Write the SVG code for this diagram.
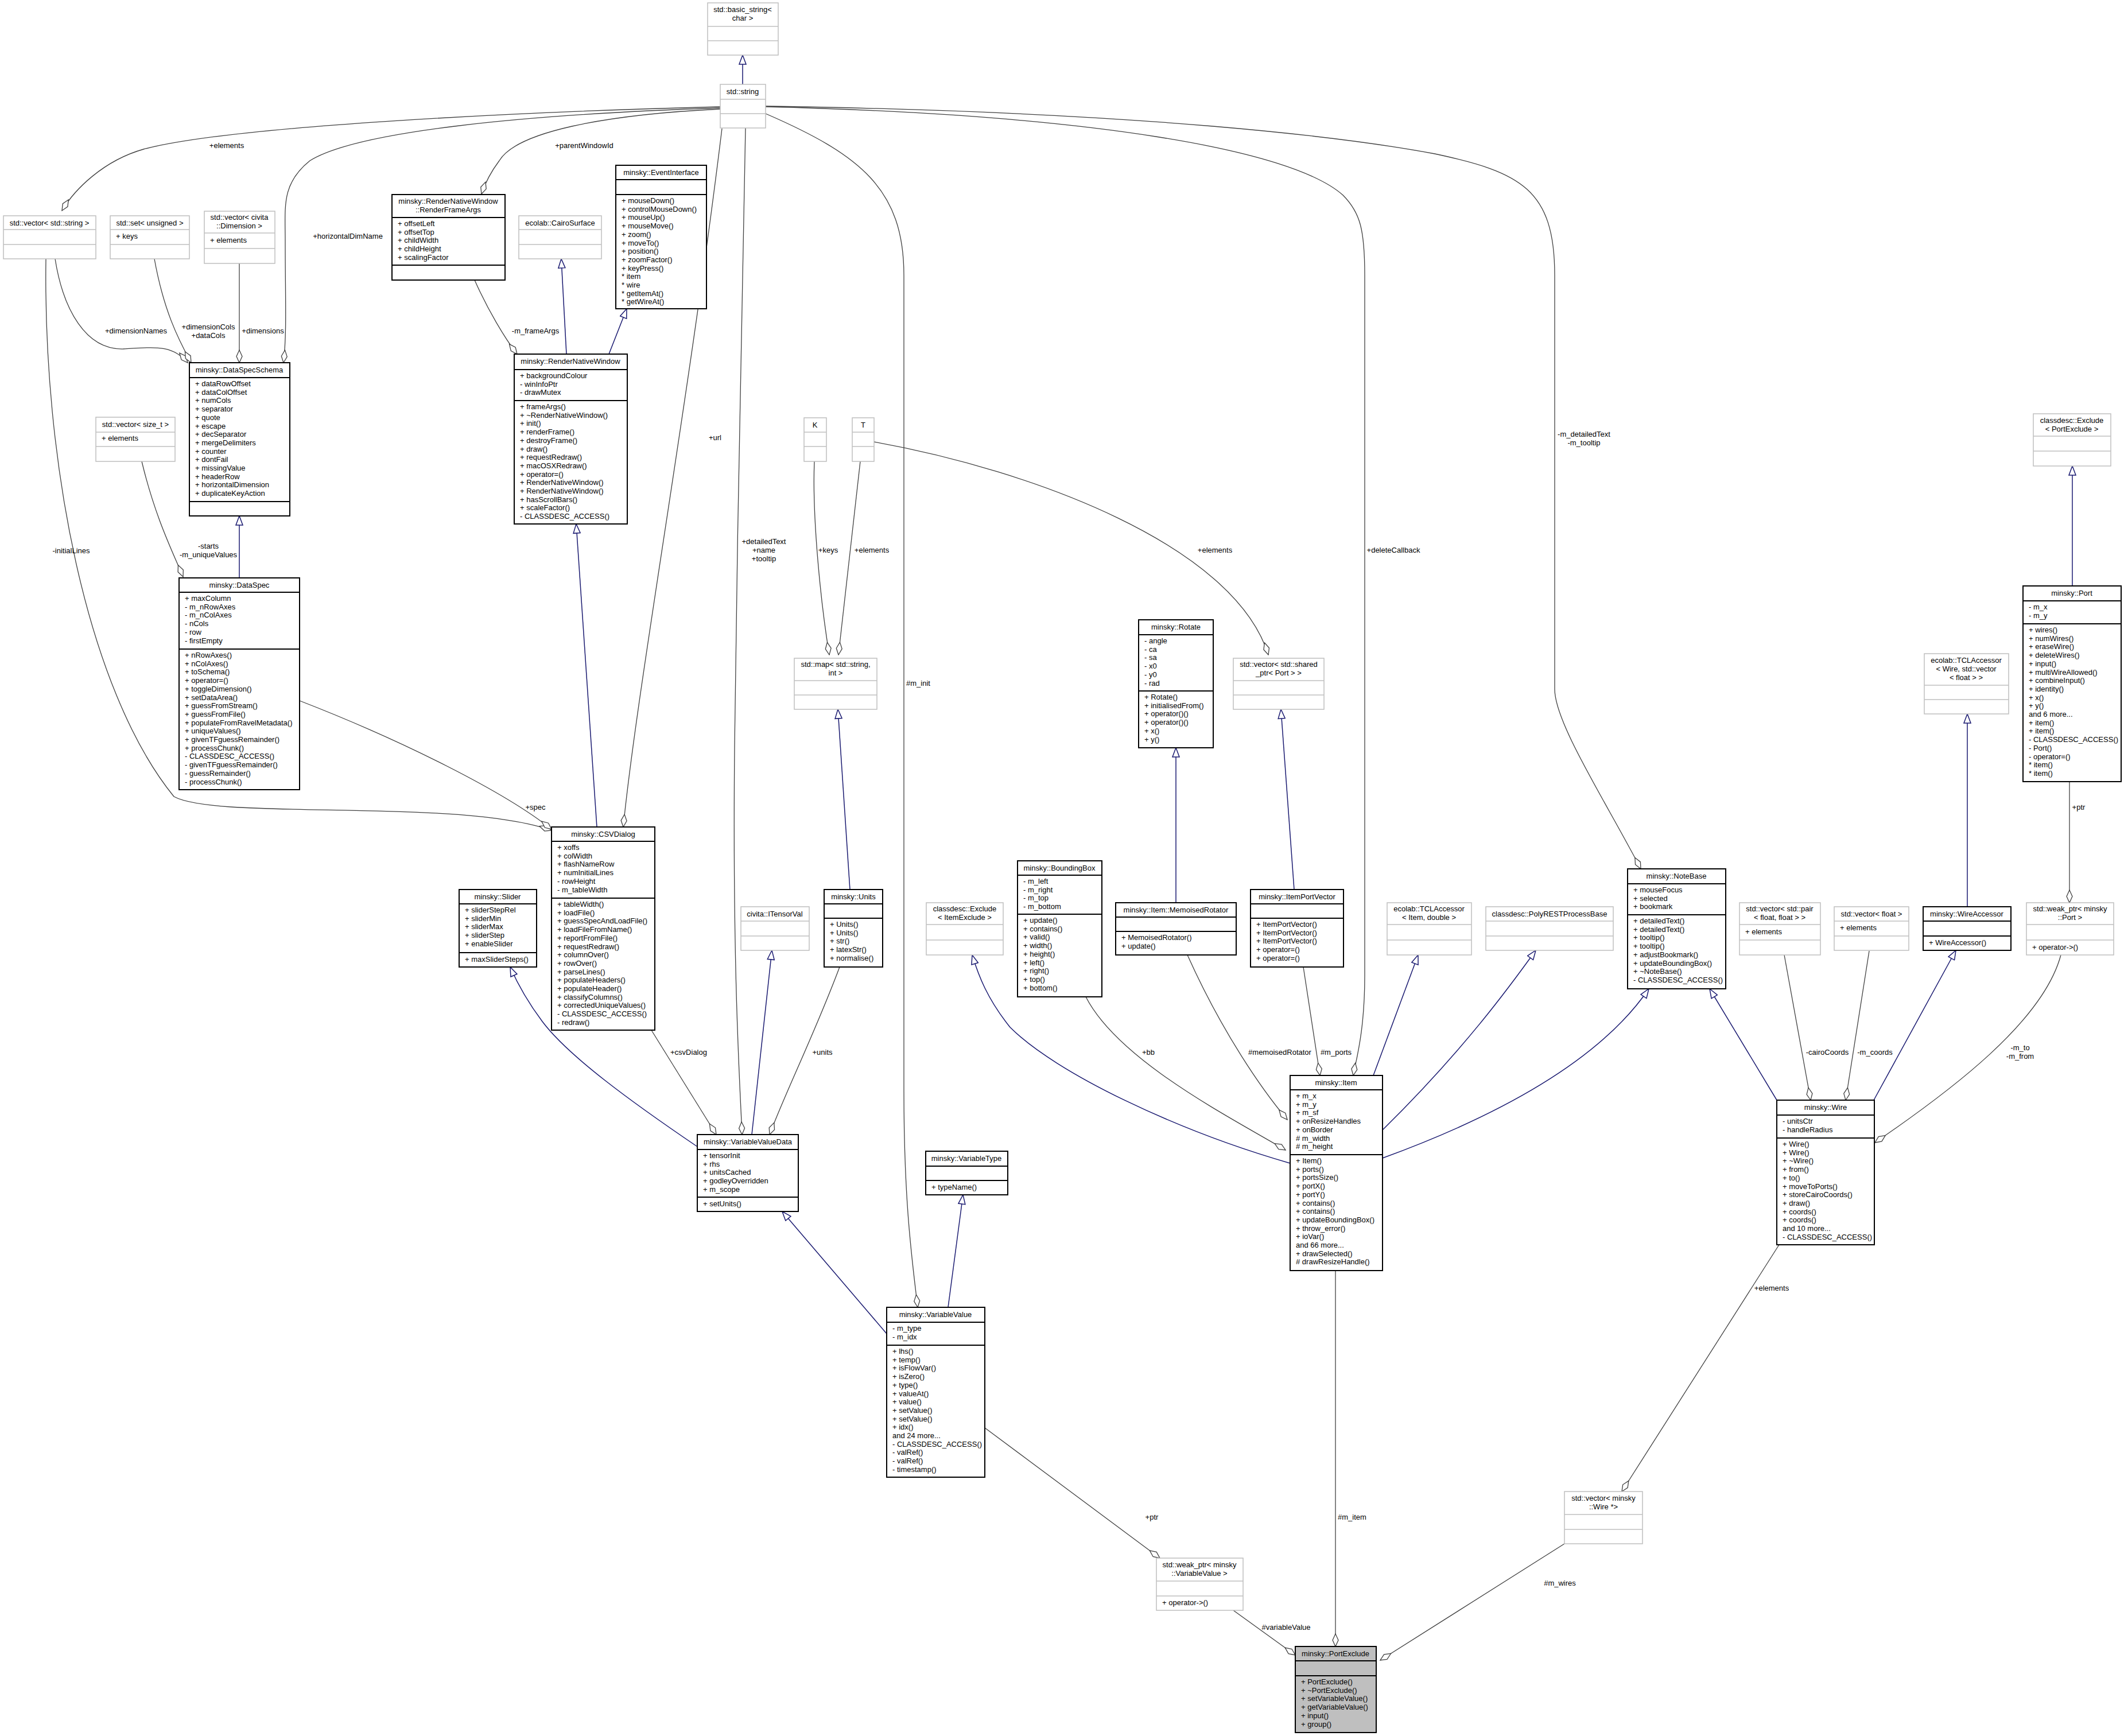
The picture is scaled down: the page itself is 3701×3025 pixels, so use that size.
<svg xmlns="http://www.w3.org/2000/svg" width="3701" height="3025" viewBox="0 0 3701 3025">
<style>
text{font-family:"Liberation Sans",Arial,sans-serif;font-size:13px;fill:#000}
.h{text-anchor:middle}
.l{text-anchor:middle}
.gb{fill:#fff;stroke:#bfbfbf;stroke-width:1.5}
.gl{stroke:#bfbfbf;stroke-width:1.5}
.bb{fill:#fff;stroke:#000;stroke-width:2}
.bl{stroke:#000;stroke-width:2}
.sel{fill:#bfbfbf;stroke:#000;stroke-width:2}
.inh{fill:none;stroke:#191970;stroke-width:1.5;marker-end:url(#tri)}
.agg{fill:none;stroke:#404040;stroke-width:1.3;marker-end:url(#dia)}
</style>
<defs>
<marker id="tri" markerUnits="userSpaceOnUse" markerWidth="20" markerHeight="14" viewBox="-1 -7 18 14" refX="16" refY="0" orient="auto"><path d="M0,-6 L16,0 L0,6 Z" fill="#fff" stroke="#191970" stroke-width="1.5"/></marker>
<marker id="dia" markerUnits="userSpaceOnUse" markerWidth="24" markerHeight="12" viewBox="-1 -6 24 12" refX="22" refY="0" orient="auto"><path d="M0,0 L11,-5 L22,0 L11,5 Z" fill="#fff" stroke="#404040" stroke-width="1.3"/></marker>
</defs>
<rect width="3701" height="3025" fill="#fff"/>
<g id="edges">
<path class="inh" d="M1294,147 L1294,96"/>
<path class="inh" d="M987,617 L978,451"/>
<path class="inh" d="M1061,617 L1092,538"/>
<path class="inh" d="M417,1007 L417,899"/>
<path class="inh" d="M1040,1441 L1004,913"/>
<path class="inh" d="M1215,1998 C1100,1920 990,1840 945,1780 C915,1740 900,1710 889,1685"/>
<path class="inh" d="M1310,1977 L1345,1656"/>
<path class="inh" d="M1545,2324 L1363,2111"/>
<path class="inh" d="M1652,2278 L1678,2082"/>
<path class="inh" d="M1481,1550 L1460,1236"/>
<path class="inh" d="M2049,1573 L2049,1303"/>
<path class="inh" d="M2255,1550 L2232,1236"/>
<path class="inh" d="M2248,2027 C2050,1970 1840,1870 1760,1790 C1720,1740 1705,1700 1694,1664"/>
<path class="inh" d="M2393,1874 L2471,1664"/>
<path class="inh" d="M2409,1969 C2550,1830 2630,1720 2676,1656"/>
<path class="inh" d="M2409,2018 C2650,1930 2800,1830 2873,1723"/>
<path class="inh" d="M3096,1917 L2979,1723"/>
<path class="inh" d="M3265,1917 L3408,1656"/>
<path class="inh" d="M3428,1580 L3428,1244"/>
<path class="inh" d="M3611,1021 L3611,812"/>

<path class="agg" d="M1255,186 C900,195 400,220 250,260 C180,280 130,330 108,367"/>
<text class="l" x="395" y="258">+elements</text>
<path class="agg" d="M1255,188 C900,200 620,230 540,280 C490,320 497,360 497,420 C497,520 500,580 494,632"/>
<text class="l" x="606" y="416">+horizontalDimName</text>
<path class="agg" d="M96,451 C110,540 150,610 215,608 C270,605 300,600 327,632"/>
<text class="l" x="237" y="581">+dimensionNames</text>
<path class="agg" d="M269,451 C285,540 310,590 333,632"/>
<text class="l" x="363" y="574">+dimensionCols</text>
<text class="l" x="363" y="589">+dataCols</text>
<path class="agg" d="M417,459 L417,632"/>
<text class="l" x="458" y="581">+dimensions</text>
<path class="agg" d="M1255,190 C1050,200 900,230 870,280 C855,300 845,320 839,338"/>
<text class="l" x="1018" y="258">+parentWindowId</text>
<path class="agg" d="M827,488 C850,540 880,590 901,617"/>
<text class="l" x="933" y="581">-m_frameArgs</text>
<path class="agg" d="M1258,224 C1200,700 1110,1200 1086,1441"/>
<text class="l" x="1246" y="767">+url</text>
<path class="agg" d="M247,804 C270,900 300,960 319,1005"/>
<text class="l" x="363" y="956">-starts</text>
<text class="l" x="363" y="971">-m_uniqueValues</text>
<path class="agg" d="M80,451 C75,800 150,1200 303,1388 C380,1430 800,1390 961,1447"/>
<text class="l" x="124" y="964">-initialLines</text>
<path class="agg" d="M522,1221 C700,1290 880,1380 961,1445"/>
<text class="l" x="933" y="1411">+spec</text>
<path class="agg" d="M1135,1795 L1248,1977"/>
<text class="l" x="1200" y="1838">+csvDialog</text>
<path class="agg" d="M1299,223 C1299,300 1284,900 1280,1300 C1276,1700 1290,1900 1293,1977"/>
<text class="l" x="1331" y="948">+detailedText</text>
<text class="l" x="1331" y="963">+name</text>
<text class="l" x="1331" y="978">+tooltip</text>
<path class="agg" d="M1463,1685 C1420,1800 1370,1900 1341,1977"/>
<text class="l" x="1433" y="1838">+units</text>
<path class="agg" d="M1419,804 C1415,900 1430,1050 1445,1141"/>
<text class="l" x="1443" y="963">+keys</text>
<path class="agg" d="M1499,804 L1461,1141"/>
<text class="l" x="1519" y="963">+elements</text>
<path class="agg" d="M1523,770 C1800,820 2150,950 2210,1141"/>
<text class="l" x="2117" y="963">+elements</text>
<path class="agg" d="M1334,198 C1500,270 1575,330 1575,480 L1575,1900 C1575,2100 1590,2200 1599,2278"/>
<text x="1579" y="1195">#m_init</text>
<path class="agg" d="M1334,186 C1900,200 2250,260 2340,340 C2370,370 2378,400 2378,480 L2378,1700 C2378,1800 2362,1850 2358,1874"/>
<text class="l" x="2428" y="963">+deleteCallback</text>
<path class="agg" d="M1334,185 C2000,195 2350,240 2500,268 C2650,300 2709,330 2709,480 L2709,1201 C2709,1260 2800,1400 2859,1514"/>
<text class="l" x="2760" y="761">-m_detailedText</text>
<text class="l" x="2760" y="776">-m_tooltip</text>
<path class="agg" d="M1892,1737 C1950,1850 2150,1950 2240,2004"/>
<text class="l" x="2001" y="1838">+bb</text>
<path class="agg" d="M2069,1664 C2130,1800 2200,1900 2243,1951"/>
<text class="l" x="2230" y="1838">#memoisedRotator</text>
<path class="agg" d="M2271,1685 L2300,1874"/>
<text class="l" x="2328" y="1838">#m_ports</text>
<path class="agg" d="M3109,1664 L3155,1917"/>
<text class="l" x="3184" y="1838">-cairoCoords</text>
<path class="agg" d="M3257,1657 L3216,1917"/>
<text class="l" x="3267" y="1838">-m_coords</text>
<path class="agg" d="M3591,1664 C3560,1780 3400,1900 3267,1991"/>
<text class="l" x="3520" y="1830">-m_to</text>
<text class="l" x="3520" y="1845">-m_from</text>
<path class="agg" d="M3606,1362 L3606,1573"/>
<text class="l" x="3622" y="1411">+ptr</text>
<path class="agg" d="M3100,2169 L2826,2599"/>
<text class="l" x="3087" y="2249">+elements</text>
<path class="agg" d="M2726,2690 L2405,2893"/>
<text class="l" x="2718" y="2763">#m_wires</text>
<path class="agg" d="M2327,2214 L2327,2869"/>
<text class="l" x="2356" y="2648">#m_item</text>
<path class="agg" d="M2149,2806 L2257,2884"/>
<text class="l" x="2241" y="2840">#variableValue</text>
<path class="agg" d="M1716,2488 L2021,2715"/>
<text class="l" x="2007" y="2648">+ptr</text>
</g>

<g id="basic_string"><rect class="gb" x="1233" y="5" width="123" height="91"/><line class="gl" x1="1233" y1="46" x2="1356" y2="46"/><line class="gl" x1="1233" y1="71" x2="1356" y2="71"/><text class="h" x="1294" y="21">std::basic_string&lt;</text><text class="h" x="1294" y="36">char &gt;</text></g>
<g id="std_string"><rect class="gb" x="1255" y="147" width="79" height="76"/><line class="gl" x1="1255" y1="173" x2="1334" y2="173"/><line class="gl" x1="1255" y1="198" x2="1334" y2="198"/><text class="h" x="1294" y="164">std::string</text></g>
<g id="vector_string"><rect class="gb" x="6" y="376" width="161" height="75"/><line class="gl" x1="6" y1="400" x2="167" y2="400"/><line class="gl" x1="6" y1="426" x2="167" y2="426"/><text class="h" x="86" y="393">std::vector&lt; std::string &gt;</text></g>
<g id="set_unsigned"><rect class="gb" x="192" y="376" width="138" height="75"/><line class="gl" x1="192" y1="400" x2="330" y2="400"/><line class="gl" x1="192" y1="426" x2="330" y2="426"/><text class="h" x="261" y="393">std::set&lt; unsigned &gt;</text><text x="202" y="416">+ keys</text></g>
<g id="vector_dimension"><rect class="gb" x="356" y="368" width="123" height="91"/><line class="gl" x1="356" y1="406" x2="479" y2="406"/><line class="gl" x1="356" y1="433" x2="479" y2="433"/><text class="h" x="417" y="383">std::vector&lt; civita</text><text class="h" x="417" y="398">::Dimension &gt;</text><text x="366" y="423">+ elements</text></g>
<g id="RenderFrameArgs"><rect class="bb" x="683" y="339" width="197" height="149"/><line class="bl" x1="683" y1="379" x2="880" y2="379"/><line class="bl" x1="683" y1="462" x2="880" y2="462"/><text class="h" x="781" y="355">minsky::RenderNativeWindow</text><text class="h" x="781" y="370">::RenderFrameArgs</text><text x="693" y="394"><tspan x="693">+ offsetLeft</tspan><tspan x="693" dy="14.7">+ offsetTop</tspan><tspan x="693" dy="14.7">+ childWidth</tspan><tspan x="693" dy="14.7">+ childHeight</tspan><tspan x="693" dy="14.7">+ scalingFactor</tspan></text></g>
<g id="CairoSurface"><rect class="gb" x="904" y="376" width="144" height="75"/><line class="gl" x1="904" y1="400" x2="1048" y2="400"/><line class="gl" x1="904" y1="426" x2="1048" y2="426"/><text class="h" x="976" y="393">ecolab::CairoSurface</text></g>
<g id="EventInterface"><rect class="bb" x="1073" y="288" width="158" height="250"/><line class="bl" x1="1073" y1="313" x2="1231" y2="313"/><line class="bl" x1="1073" y1="339" x2="1231" y2="339"/><text class="h" x="1152" y="305">minsky::EventInterface</text><text x="1083" y="354"><tspan x="1083">+ mouseDown()</tspan><tspan x="1083" dy="14.7">+ controlMouseDown()</tspan><tspan x="1083" dy="14.7">+ mouseUp()</tspan><tspan x="1083" dy="14.7">+ mouseMove()</tspan><tspan x="1083" dy="14.7">+ zoom()</tspan><tspan x="1083" dy="14.7">+ moveTo()</tspan><tspan x="1083" dy="14.7">+ position()</tspan><tspan x="1083" dy="14.7">+ zoomFactor()</tspan><tspan x="1083" dy="14.7">+ keyPress()</tspan><tspan x="1083" dy="14.7">* item</tspan><tspan x="1083" dy="14.7">* wire</tspan><tspan x="1083" dy="14.7">* getItemAt()</tspan><tspan x="1083" dy="14.7">* getWireAt()</tspan></text></g>
<g id="DataSpecSchema"><rect class="bb" x="330" y="632" width="175" height="267"/><line class="bl" x1="330" y1="658" x2="505" y2="658"/><line class="bl" x1="330" y1="874" x2="505" y2="874"/><text class="h" x="417" y="649">minsky::DataSpecSchema</text><text x="340" y="673"><tspan x="340">+ dataRowOffset</tspan><tspan x="340" dy="14.7">+ dataColOffset</tspan><tspan x="340" dy="14.7">+ numCols</tspan><tspan x="340" dy="14.7">+ separator</tspan><tspan x="340" dy="14.7">+ quote</tspan><tspan x="340" dy="14.7">+ escape</tspan><tspan x="340" dy="14.7">+ decSeparator</tspan><tspan x="340" dy="14.7">+ mergeDelimiters</tspan><tspan x="340" dy="14.7">+ counter</tspan><tspan x="340" dy="14.7">+ dontFail</tspan><tspan x="340" dy="14.7">+ missingValue</tspan><tspan x="340" dy="14.7">+ headerRow</tspan><tspan x="340" dy="14.7">+ horizontalDimension</tspan><tspan x="340" dy="14.7">+ duplicateKeyAction</tspan></text></g>
<g id="vector_size_t"><rect class="gb" x="167" y="727" width="138" height="77"/><line class="gl" x1="167" y1="753" x2="305" y2="753"/><line class="gl" x1="167" y1="778" x2="305" y2="778"/><text class="h" x="236" y="744">std::vector&lt; size_t &gt;</text><text x="177" y="768">+ elements</text></g>
<g id="RenderNativeWindow"><rect class="bb" x="896" y="617" width="197" height="296"/><line class="bl" x1="896" y1="644" x2="1093" y2="644"/><line class="bl" x1="896" y1="698" x2="1093" y2="698"/><text class="h" x="994" y="634">minsky::RenderNativeWindow</text><text x="906" y="659"><tspan x="906">+ backgroundColour</tspan><tspan x="906" dy="14.7">- winInfoPtr</tspan><tspan x="906" dy="14.7">- drawMutex</tspan></text><text x="906" y="713"><tspan x="906">+ frameArgs()</tspan><tspan x="906" dy="14.7">+ ~RenderNativeWindow()</tspan><tspan x="906" dy="14.7">+ init()</tspan><tspan x="906" dy="14.7">+ renderFrame()</tspan><tspan x="906" dy="14.7">+ destroyFrame()</tspan><tspan x="906" dy="14.7">+ draw()</tspan><tspan x="906" dy="14.7">+ requestRedraw()</tspan><tspan x="906" dy="14.7">+ macOSXRedraw()</tspan><tspan x="906" dy="14.7">+ operator=()</tspan><tspan x="906" dy="14.7">+ RenderNativeWindow()</tspan><tspan x="906" dy="14.7">+ RenderNativeWindow()</tspan><tspan x="906" dy="14.7">+ hasScrollBars()</tspan><tspan x="906" dy="14.7">+ scaleFactor()</tspan><tspan x="906" dy="14.7">- CLASSDESC_ACCESS()</tspan></text></g>
<g id="DataSpec"><rect class="bb" x="312" y="1007" width="210" height="369"/><line class="bl" x1="312" y1="1032" x2="522" y2="1032"/><line class="bl" x1="312" y1="1131" x2="522" y2="1131"/><text class="h" x="417" y="1024">minsky::DataSpec</text><text x="322" y="1047"><tspan x="322">+ maxColumn</tspan><tspan x="322" dy="14.7">- m_nRowAxes</tspan><tspan x="322" dy="14.7">- m_nColAxes</tspan><tspan x="322" dy="14.7">- nCols</tspan><tspan x="322" dy="14.7">- row</tspan><tspan x="322" dy="14.7">- firstEmpty</tspan></text><text x="322" y="1146"><tspan x="322">+ nRowAxes()</tspan><tspan x="322" dy="14.7">+ nColAxes()</tspan><tspan x="322" dy="14.7">+ toSchema()</tspan><tspan x="322" dy="14.7">+ operator=()</tspan><tspan x="322" dy="14.7">+ toggleDimension()</tspan><tspan x="322" dy="14.7">+ setDataArea()</tspan><tspan x="322" dy="14.7">+ guessFromStream()</tspan><tspan x="322" dy="14.7">+ guessFromFile()</tspan><tspan x="322" dy="14.7">+ populateFromRavelMetadata()</tspan><tspan x="322" dy="14.7">+ uniqueValues()</tspan><tspan x="322" dy="14.7">+ givenTFguessRemainder()</tspan><tspan x="322" dy="14.7">+ processChunk()</tspan><tspan x="322" dy="14.7">- CLASSDESC_ACCESS()</tspan><tspan x="322" dy="14.7">- givenTFguessRemainder()</tspan><tspan x="322" dy="14.7">- guessRemainder()</tspan><tspan x="322" dy="14.7">- processChunk()</tspan></text></g>
<g id="CSVDialog"><rect class="bb" x="961" y="1441" width="180" height="354"/><line class="bl" x1="961" y1="1466" x2="1141" y2="1466"/><line class="bl" x1="961" y1="1565" x2="1141" y2="1565"/><text class="h" x="1051" y="1458">minsky::CSVDialog</text><text x="971" y="1481"><tspan x="971">+ xoffs</tspan><tspan x="971" dy="14.7">+ colWidth</tspan><tspan x="971" dy="14.7">+ flashNameRow</tspan><tspan x="971" dy="14.7">+ numInitialLines</tspan><tspan x="971" dy="14.7">- rowHeight</tspan><tspan x="971" dy="14.7">- m_tableWidth</tspan></text><text x="971" y="1580"><tspan x="971">+ tableWidth()</tspan><tspan x="971" dy="14.7">+ loadFile()</tspan><tspan x="971" dy="14.7">+ guessSpecAndLoadFile()</tspan><tspan x="971" dy="14.7">+ loadFileFromName()</tspan><tspan x="971" dy="14.7">+ reportFromFile()</tspan><tspan x="971" dy="14.7">+ requestRedraw()</tspan><tspan x="971" dy="14.7">+ columnOver()</tspan><tspan x="971" dy="14.7">+ rowOver()</tspan><tspan x="971" dy="14.7">+ parseLines()</tspan><tspan x="971" dy="14.7">+ populateHeaders()</tspan><tspan x="971" dy="14.7">+ populateHeader()</tspan><tspan x="971" dy="14.7">+ classifyColumns()</tspan><tspan x="971" dy="14.7">+ correctedUniqueValues()</tspan><tspan x="971" dy="14.7">- CLASSDESC_ACCESS()</tspan><tspan x="971" dy="14.7">- redraw()</tspan></text></g>
<g id="Slider"><rect class="bb" x="800" y="1550" width="135" height="135"/><line class="bl" x1="800" y1="1575" x2="935" y2="1575"/><line class="bl" x1="800" y1="1660" x2="935" y2="1660"/><text class="h" x="867" y="1567">minsky::Slider</text><text x="810" y="1590"><tspan x="810">+ sliderStepRel</tspan><tspan x="810" dy="14.7">+ sliderMin</tspan><tspan x="810" dy="14.7">+ sliderMax</tspan><tspan x="810" dy="14.7">+ sliderStep</tspan><tspan x="810" dy="14.7">+ enableSlider</tspan></text><text x="810" y="1676">+ maxSliderSteps()</text></g>
<g id="VariableValueData"><rect class="bb" x="1215" y="1977" width="176" height="134"/><line class="bl" x1="1215" y1="2003" x2="1391" y2="2003"/><line class="bl" x1="1215" y1="2086" x2="1391" y2="2086"/><text class="h" x="1303" y="1994">minsky::VariableValueData</text><text x="1225" y="2018"><tspan x="1225">+ tensorInit</tspan><tspan x="1225" dy="14.7">+ rhs</tspan><tspan x="1225" dy="14.7">+ unitsCached</tspan><tspan x="1225" dy="14.7">+ godleyOverridden</tspan><tspan x="1225" dy="14.7">+ m_scope</tspan></text><text x="1225" y="2102">+ setUnits()</text></g>
<g id="map"><rect class="gb" x="1384" y="1147" width="144" height="89"/><line class="gl" x1="1384" y1="1186" x2="1528" y2="1186"/><line class="gl" x1="1384" y1="1211" x2="1528" y2="1211"/><text class="h" x="1456" y="1162">std::map&lt; std::string,</text><text class="h" x="1456" y="1177">int &gt;</text></g>
<g id="K"><rect class="gb" x="1401" y="728" width="39" height="76"/><line class="gl" x1="1401" y1="753" x2="1440" y2="753"/><line class="gl" x1="1401" y1="778" x2="1440" y2="778"/><text class="h" x="1420" y="745">K</text></g>
<g id="T"><rect class="gb" x="1485" y="728" width="38" height="76"/><line class="gl" x1="1485" y1="753" x2="1523" y2="753"/><line class="gl" x1="1485" y1="778" x2="1523" y2="778"/><text class="h" x="1504" y="745">T</text></g>
<g id="Rotate"><rect class="bb" x="1984" y="1080" width="130" height="223"/><line class="bl" x1="1984" y1="1106" x2="2114" y2="1106"/><line class="bl" x1="1984" y1="1204" x2="2114" y2="1204"/><text class="h" x="2049" y="1097">minsky::Rotate</text><text x="1994" y="1121"><tspan x="1994">- angle</tspan><tspan x="1994" dy="14.7">- ca</tspan><tspan x="1994" dy="14.7">- sa</tspan><tspan x="1994" dy="14.7">- x0</tspan><tspan x="1994" dy="14.7">- y0</tspan><tspan x="1994" dy="14.7">- rad</tspan></text><text x="1994" y="1219"><tspan x="1994">+ Rotate()</tspan><tspan x="1994" dy="14.7">+ initialisedFrom()</tspan><tspan x="1994" dy="14.7">+ operator()()</tspan><tspan x="1994" dy="14.7">+ operator()()</tspan><tspan x="1994" dy="14.7">+ x()</tspan><tspan x="1994" dy="14.7">+ y()</tspan></text></g>
<g id="vector_shared_port"><rect class="gb" x="2149" y="1147" width="158" height="89"/><line class="gl" x1="2149" y1="1186" x2="2307" y2="1186"/><line class="gl" x1="2149" y1="1211" x2="2307" y2="1211"/><text class="h" x="2228" y="1162">std::vector&lt; std::shared</text><text class="h" x="2228" y="1177">_ptr&lt; Port &gt; &gt;</text></g>
<g id="Units"><rect class="bb" x="1436" y="1550" width="102" height="135"/><line class="bl" x1="1436" y1="1575" x2="1538" y2="1575"/><line class="bl" x1="1436" y1="1600" x2="1538" y2="1600"/><text class="h" x="1487" y="1567">minsky::Units</text><text x="1446" y="1615"><tspan x="1446">+ Units()</tspan><tspan x="1446" dy="14.7">+ Units()</tspan><tspan x="1446" dy="14.7">+ str()</tspan><tspan x="1446" dy="14.7">+ latexStr()</tspan><tspan x="1446" dy="14.7">+ normalise()</tspan></text></g>
<g id="ITensorVal"><rect class="gb" x="1291" y="1580" width="119" height="76"/><line class="gl" x1="1291" y1="1605" x2="1410" y2="1605"/><line class="gl" x1="1291" y1="1631" x2="1410" y2="1631"/><text class="h" x="1350" y="1597">civita::ITensorVal</text></g>
<g id="Exclude_ItemExclude"><rect class="gb" x="1614" y="1573" width="134" height="91"/><line class="gl" x1="1614" y1="1611" x2="1748" y2="1611"/><line class="gl" x1="1614" y1="1638" x2="1748" y2="1638"/><text class="h" x="1681" y="1588">classdesc::Exclude</text><text class="h" x="1681" y="1603">&lt; ItemExclude &gt;</text></g>
<g id="BoundingBox"><rect class="bb" x="1773" y="1500" width="147" height="237"/><line class="bl" x1="1773" y1="1525" x2="1920" y2="1525"/><line class="bl" x1="1773" y1="1593" x2="1920" y2="1593"/><text class="h" x="1846" y="1517">minsky::BoundingBox</text><text x="1783" y="1540"><tspan x="1783">- m_left</tspan><tspan x="1783" dy="14.7">- m_right</tspan><tspan x="1783" dy="14.7">- m_top</tspan><tspan x="1783" dy="14.7">- m_bottom</tspan></text><text x="1783" y="1608"><tspan x="1783">+ update()</tspan><tspan x="1783" dy="14.7">+ contains()</tspan><tspan x="1783" dy="14.7">+ valid()</tspan><tspan x="1783" dy="14.7">+ width()</tspan><tspan x="1783" dy="14.7">+ height()</tspan><tspan x="1783" dy="14.7">+ left()</tspan><tspan x="1783" dy="14.7">+ right()</tspan><tspan x="1783" dy="14.7">+ top()</tspan><tspan x="1783" dy="14.7">+ bottom()</tspan></text></g>
<g id="MemoisedRotator"><rect class="bb" x="1944" y="1573" width="210" height="91"/><line class="bl" x1="1944" y1="1598" x2="2154" y2="1598"/><line class="bl" x1="1944" y1="1623" x2="2154" y2="1623"/><text class="h" x="2049" y="1590">minsky::Item::MemoisedRotator</text><text x="1954" y="1638"><tspan x="1954">+ MemoisedRotator()</tspan><tspan x="1954" dy="14.7">+ update()</tspan></text></g>
<g id="ItemPortVector"><rect class="bb" x="2179" y="1550" width="162" height="135"/><line class="bl" x1="2179" y1="1575" x2="2341" y2="1575"/><line class="bl" x1="2179" y1="1600" x2="2341" y2="1600"/><text class="h" x="2260" y="1567">minsky::ItemPortVector</text><text x="2189" y="1615"><tspan x="2189">+ ItemPortVector()</tspan><tspan x="2189" dy="14.7">+ ItemPortVector()</tspan><tspan x="2189" dy="14.7">+ ItemPortVector()</tspan><tspan x="2189" dy="14.7">+ operator=()</tspan><tspan x="2189" dy="14.7">+ operator=()</tspan></text></g>
<g id="Item"><rect class="bb" x="2248" y="1874" width="161" height="340"/><line class="bl" x1="2248" y1="1899" x2="2409" y2="1899"/><line class="bl" x1="2248" y1="2012" x2="2409" y2="2012"/><text class="h" x="2328" y="1891">minsky::Item</text><text x="2258" y="1914"><tspan x="2258">+ m_x</tspan><tspan x="2258" dy="14.7">+ m_y</tspan><tspan x="2258" dy="14.7">+ m_sf</tspan><tspan x="2258" dy="14.7">+ onResizeHandles</tspan><tspan x="2258" dy="14.7">+ onBorder</tspan><tspan x="2258" dy="14.7"># m_width</tspan><tspan x="2258" dy="14.7"># m_height</tspan></text><text x="2258" y="2027"><tspan x="2258">+ Item()</tspan><tspan x="2258" dy="14.7">+ ports()</tspan><tspan x="2258" dy="14.7">+ portsSize()</tspan><tspan x="2258" dy="14.7">+ portX()</tspan><tspan x="2258" dy="14.7">+ portY()</tspan><tspan x="2258" dy="14.7">+ contains()</tspan><tspan x="2258" dy="14.7">+ contains()</tspan><tspan x="2258" dy="14.7">+ updateBoundingBox()</tspan><tspan x="2258" dy="14.7">+ throw_error()</tspan><tspan x="2258" dy="14.7">+ ioVar()</tspan><tspan x="2258" dy="14.7">and 66 more...</tspan><tspan x="2258" dy="14.7">+ drawSelected()</tspan><tspan x="2258" dy="14.7"># drawResizeHandle()</tspan></text></g>
<g id="VariableType"><rect class="bb" x="1613" y="2006" width="143" height="76"/><line class="bl" x1="1613" y1="2032" x2="1756" y2="2032"/><line class="bl" x1="1613" y1="2057" x2="1756" y2="2057"/><text class="h" x="1684" y="2023">minsky::VariableType</text><text x="1623" y="2073">+ typeName()</text></g>
<g id="VariableValue"><rect class="bb" x="1545" y="2278" width="171" height="296"/><line class="bl" x1="1545" y1="2304" x2="1716" y2="2304"/><line class="bl" x1="1545" y1="2344" x2="1716" y2="2344"/><text class="h" x="1630" y="2295">minsky::VariableValue</text><text x="1555" y="2319"><tspan x="1555">- m_type</tspan><tspan x="1555" dy="14.7">- m_idx</tspan></text><text x="1555" y="2359"><tspan x="1555">+ lhs()</tspan><tspan x="1555" dy="14.7">+ temp()</tspan><tspan x="1555" dy="14.7">+ isFlowVar()</tspan><tspan x="1555" dy="14.7">+ isZero()</tspan><tspan x="1555" dy="14.7">+ type()</tspan><tspan x="1555" dy="14.7">+ valueAt()</tspan><tspan x="1555" dy="14.7">+ value()</tspan><tspan x="1555" dy="14.7">+ setValue()</tspan><tspan x="1555" dy="14.7">+ setValue()</tspan><tspan x="1555" dy="14.7">+ idx()</tspan><tspan x="1555" dy="14.7">and 24 more...</tspan><tspan x="1555" dy="14.7">- CLASSDESC_ACCESS()</tspan><tspan x="1555" dy="14.7">- valRef()</tspan><tspan x="1555" dy="14.7">- valRef()</tspan><tspan x="1555" dy="14.7">- timestamp()</tspan></text></g>
<g id="weak_ptr_VariableValue"><rect class="gb" x="2015" y="2715" width="151" height="91"/><line class="gl" x1="2015" y1="2755" x2="2166" y2="2755"/><line class="gl" x1="2015" y1="2781" x2="2166" y2="2781"/><text class="h" x="2090" y="2731">std::weak_ptr&lt; minsky</text><text class="h" x="2090" y="2746">::VariableValue &gt;</text><text x="2025" y="2797">+ operator-&gt;()</text></g>
<g id="PortExclude"><rect class="sel" x="2257" y="2869" width="141" height="150"/><line class="bl" x1="2257" y1="2894" x2="2398" y2="2894"/><line class="bl" x1="2257" y1="2920" x2="2398" y2="2920"/><text class="h" x="2327" y="2886">minsky::PortExclude</text><text x="2267" y="2935"><tspan x="2267">+ PortExclude()</tspan><tspan x="2267" dy="14.7">+ ~PortExclude()</tspan><tspan x="2267" dy="14.7">+ setVariableValue()</tspan><tspan x="2267" dy="14.7">+ getVariableValue()</tspan><tspan x="2267" dy="14.7">+ input()</tspan><tspan x="2267" dy="14.7">+ group()</tspan></text></g>
<g id="vector_Wire_ptr"><rect class="gb" x="2726" y="2599" width="136" height="91"/><line class="gl" x1="2726" y1="2639" x2="2862" y2="2639"/><line class="gl" x1="2726" y1="2665" x2="2862" y2="2665"/><text class="h" x="2794" y="2615">std::vector&lt; minsky</text><text class="h" x="2794" y="2630">::Wire *&gt;</text></g>
<g id="Wire"><rect class="bb" x="3096" y="1917" width="170" height="252"/><line class="bl" x1="3096" y1="1943" x2="3266" y2="1943"/><line class="bl" x1="3096" y1="1983" x2="3266" y2="1983"/><text class="h" x="3181" y="1934">minsky::Wire</text><text x="3106" y="1958"><tspan x="3106">- unitsCtr</tspan><tspan x="3106" dy="14.7">- handleRadius</tspan></text><text x="3106" y="1998"><tspan x="3106">+ Wire()</tspan><tspan x="3106" dy="14.7">+ Wire()</tspan><tspan x="3106" dy="14.7">+ ~Wire()</tspan><tspan x="3106" dy="14.7">+ from()</tspan><tspan x="3106" dy="14.7">+ to()</tspan><tspan x="3106" dy="14.7">+ moveToPorts()</tspan><tspan x="3106" dy="14.7">+ storeCairoCoords()</tspan><tspan x="3106" dy="14.7">+ draw()</tspan><tspan x="3106" dy="14.7">+ coords()</tspan><tspan x="3106" dy="14.7">+ coords()</tspan><tspan x="3106" dy="14.7">and 10 more...</tspan><tspan x="3106" dy="14.7">- CLASSDESC_ACCESS()</tspan></text></g>
<g id="Port"><rect class="bb" x="3525" y="1021" width="171" height="341"/><line class="bl" x1="3525" y1="1047" x2="3696" y2="1047"/><line class="bl" x1="3525" y1="1087" x2="3696" y2="1087"/><text class="h" x="3610" y="1038">minsky::Port</text><text x="3535" y="1062"><tspan x="3535">- m_x</tspan><tspan x="3535" dy="14.7">- m_y</tspan></text><text x="3535" y="1102"><tspan x="3535">+ wires()</tspan><tspan x="3535" dy="14.7">+ numWires()</tspan><tspan x="3535" dy="14.7">+ eraseWire()</tspan><tspan x="3535" dy="14.7">+ deleteWires()</tspan><tspan x="3535" dy="14.7">+ input()</tspan><tspan x="3535" dy="14.7">+ multiWireAllowed()</tspan><tspan x="3535" dy="14.7">+ combineInput()</tspan><tspan x="3535" dy="14.7">+ identity()</tspan><tspan x="3535" dy="14.7">+ x()</tspan><tspan x="3535" dy="14.7">+ y()</tspan><tspan x="3535" dy="14.7">and 6 more...</tspan><tspan x="3535" dy="14.7">+ item()</tspan><tspan x="3535" dy="14.7">+ item()</tspan><tspan x="3535" dy="14.7">- CLASSDESC_ACCESS()</tspan><tspan x="3535" dy="14.7">- Port()</tspan><tspan x="3535" dy="14.7">- operator=()</tspan><tspan x="3535" dy="14.7">* item()</tspan><tspan x="3535" dy="14.7">* item()</tspan></text></g>
<g id="Exclude_PortExclude"><rect class="gb" x="3543" y="721" width="135" height="91"/><line class="gl" x1="3543" y1="760" x2="3678" y2="760"/><line class="gl" x1="3543" y1="786" x2="3678" y2="786"/><text class="h" x="3610" y="737">classdesc::Exclude</text><text class="h" x="3610" y="752">&lt; PortExclude &gt;</text></g>
<g id="NoteBase"><rect class="bb" x="2836" y="1514" width="171" height="209"/><line class="bl" x1="2836" y1="1540" x2="3007" y2="1540"/><line class="bl" x1="2836" y1="1594" x2="3007" y2="1594"/><text class="h" x="2921" y="1531">minsky::NoteBase</text><text x="2846" y="1555"><tspan x="2846">+ mouseFocus</tspan><tspan x="2846" dy="14.7">+ selected</tspan><tspan x="2846" dy="14.7">+ bookmark</tspan></text><text x="2846" y="1609"><tspan x="2846">+ detailedText()</tspan><tspan x="2846" dy="14.7">+ detailedText()</tspan><tspan x="2846" dy="14.7">+ tooltip()</tspan><tspan x="2846" dy="14.7">+ tooltip()</tspan><tspan x="2846" dy="14.7">+ adjustBookmark()</tspan><tspan x="2846" dy="14.7">+ updateBoundingBox()</tspan><tspan x="2846" dy="14.7">+ ~NoteBase()</tspan><tspan x="2846" dy="14.7">- CLASSDESC_ACCESS()</tspan></text></g>
<g id="TCLAccessor_Item"><rect class="gb" x="2417" y="1573" width="147" height="91"/><line class="gl" x1="2417" y1="1611" x2="2564" y2="1611"/><line class="gl" x1="2417" y1="1638" x2="2564" y2="1638"/><text class="h" x="2490" y="1588">ecolab::TCLAccessor</text><text class="h" x="2490" y="1603">&lt; Item, double &gt;</text></g>
<g id="PolyRESTProcessBase"><rect class="gb" x="2589" y="1580" width="222" height="76"/><line class="gl" x1="2589" y1="1605" x2="2811" y2="1605"/><line class="gl" x1="2589" y1="1631" x2="2811" y2="1631"/><text class="h" x="2700" y="1597">classdesc::PolyRESTProcessBase</text></g>
<g id="vector_pair"><rect class="gb" x="3031" y="1573" width="141" height="91"/><line class="gl" x1="3031" y1="1611" x2="3172" y2="1611"/><line class="gl" x1="3031" y1="1638" x2="3172" y2="1638"/><text class="h" x="3101" y="1588">std::vector&lt; std::pair</text><text class="h" x="3101" y="1603">&lt; float, float &gt; &gt;</text><text x="3041" y="1628">+ elements</text></g>
<g id="vector_float"><rect class="gb" x="3196" y="1580" width="130" height="76"/><line class="gl" x1="3196" y1="1605" x2="3326" y2="1605"/><line class="gl" x1="3196" y1="1631" x2="3326" y2="1631"/><text class="h" x="3261" y="1597">std::vector&lt; float &gt;</text><text x="3206" y="1621">+ elements</text></g>
<g id="WireAccessor"><rect class="bb" x="3351" y="1580" width="153" height="76"/><line class="bl" x1="3351" y1="1605" x2="3504" y2="1605"/><line class="bl" x1="3351" y1="1631" x2="3504" y2="1631"/><text class="h" x="3427" y="1597">minsky::WireAccessor</text><text x="3361" y="1647">+ WireAccessor()</text></g>
<g id="TCLAccessor_Wire"><rect class="gb" x="3353" y="1139" width="147" height="105"/><line class="gl" x1="3353" y1="1194" x2="3500" y2="1194"/><line class="gl" x1="3353" y1="1219" x2="3500" y2="1219"/><text class="h" x="3426" y="1155">ecolab::TCLAccessor</text><text class="h" x="3426" y="1170">&lt; Wire, std::vector</text><text class="h" x="3426" y="1185">&lt; float &gt; &gt;</text></g>
<g id="weak_ptr_Port"><rect class="gb" x="3531" y="1573" width="152" height="91"/><line class="gl" x1="3531" y1="1611" x2="3683" y2="1611"/><line class="gl" x1="3531" y1="1638" x2="3683" y2="1638"/><text class="h" x="3607" y="1588">std::weak_ptr&lt; minsky</text><text class="h" x="3607" y="1603">::Port &gt;</text><text x="3541" y="1655">+ operator-&gt;()</text></g>
</svg>
